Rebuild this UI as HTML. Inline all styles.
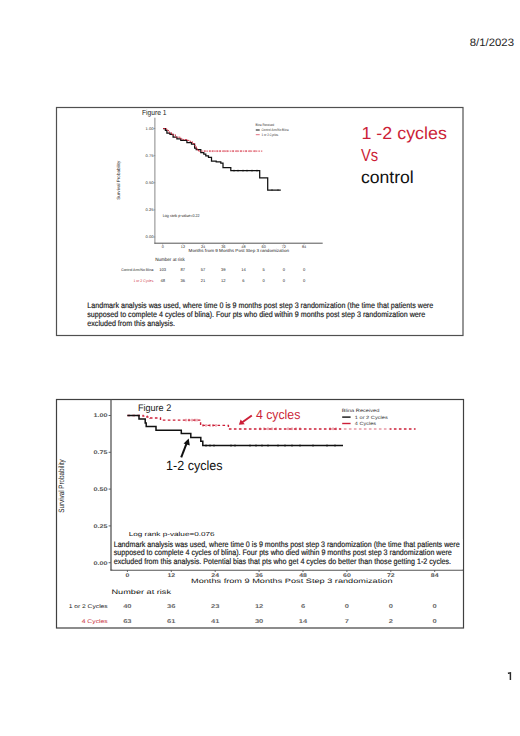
<!DOCTYPE html>
<html><head><meta charset="utf-8"><style>
html,body{margin:0;padding:0;background:#fff;width:520px;height:736px;overflow:hidden}
svg{display:block}
text{font-family:"Liberation Sans",sans-serif;text-rendering:geometricPrecision}
</style></head><body>
<svg width="520" height="736" viewBox="0 0 520 736">
<rect width="520" height="736" fill="#fff"/>
<text x="469.80" y="45.60" font-size="10.8" fill="#262626" textLength="44.20" lengthAdjust="spacingAndGlyphs" >8/1/2023</text>
<path d="M507.9,673.3 L510.4,672.9 L510.4,680" fill="none" stroke="#2a2a2a" stroke-width="1.45" stroke-linejoin="miter"/>
<rect x="56.5" y="107.5" width="406.5" height="228" fill="none" stroke="#505050" stroke-width="1.2"/>
<rect x="56.5" y="399.5" width="407" height="228.5" fill="none" stroke="#404040" stroke-width="1.2"/>
<text x="141.90" y="115.40" font-size="7.4" fill="#222" textLength="24.60" lengthAdjust="spacingAndGlyphs" >Figure 1</text>
<line x1="154.90" y1="117.70" x2="154.90" y2="243.70" stroke="#888" stroke-width="1.0" />
<line x1="154.40" y1="243.20" x2="322.70" y2="243.20" stroke="#555" stroke-width="1.0" />
<line x1="153.60" y1="128.50" x2="155.20" y2="128.50" stroke="#777" stroke-width="0.6" />
<text x="145.50" y="129.90" font-size="3.8" fill="#333" textLength="8.00" lengthAdjust="spacingAndGlyphs" >1.00</text>
<line x1="153.60" y1="155.62" x2="155.20" y2="155.62" stroke="#777" stroke-width="0.6" />
<text x="145.50" y="157.03" font-size="3.8" fill="#333" textLength="8.00" lengthAdjust="spacingAndGlyphs" >0.75</text>
<line x1="153.60" y1="182.75" x2="155.20" y2="182.75" stroke="#777" stroke-width="0.6" />
<text x="145.50" y="184.15" font-size="3.8" fill="#333" textLength="8.00" lengthAdjust="spacingAndGlyphs" >0.50</text>
<line x1="153.60" y1="209.88" x2="155.20" y2="209.88" stroke="#777" stroke-width="0.6" />
<text x="145.50" y="211.28" font-size="3.8" fill="#333" textLength="8.00" lengthAdjust="spacingAndGlyphs" >0.25</text>
<line x1="153.60" y1="237.00" x2="155.20" y2="237.00" stroke="#777" stroke-width="0.6" />
<text x="145.50" y="238.40" font-size="3.8" fill="#333" textLength="8.00" lengthAdjust="spacingAndGlyphs" >0.00</text>
<line x1="162.70" y1="243.20" x2="162.70" y2="244.60" stroke="#777" stroke-width="0.6" />
<text x="162.70" y="247.80" font-size="3.8" fill="#333" text-anchor="middle" >0</text>
<line x1="182.89" y1="243.20" x2="182.89" y2="244.60" stroke="#777" stroke-width="0.6" />
<text x="182.89" y="247.80" font-size="3.8" fill="#333" text-anchor="middle" >12</text>
<line x1="203.08" y1="243.20" x2="203.08" y2="244.60" stroke="#777" stroke-width="0.6" />
<text x="203.08" y="247.80" font-size="3.8" fill="#333" text-anchor="middle" >24</text>
<line x1="223.27" y1="243.20" x2="223.27" y2="244.60" stroke="#777" stroke-width="0.6" />
<text x="223.27" y="247.80" font-size="3.8" fill="#333" text-anchor="middle" >36</text>
<line x1="243.46" y1="243.20" x2="243.46" y2="244.60" stroke="#777" stroke-width="0.6" />
<text x="243.46" y="247.80" font-size="3.8" fill="#333" text-anchor="middle" >48</text>
<line x1="263.65" y1="243.20" x2="263.65" y2="244.60" stroke="#777" stroke-width="0.6" />
<text x="263.65" y="247.80" font-size="3.8" fill="#333" text-anchor="middle" >60</text>
<line x1="283.84" y1="243.20" x2="283.84" y2="244.60" stroke="#777" stroke-width="0.6" />
<text x="283.84" y="247.80" font-size="3.8" fill="#333" text-anchor="middle" >72</text>
<line x1="304.03" y1="243.20" x2="304.03" y2="244.60" stroke="#777" stroke-width="0.6" />
<text x="304.03" y="247.80" font-size="3.8" fill="#333" text-anchor="middle" >84</text>
<text x="188.60" y="251.70" font-size="4.4" fill="#1a1a1a" textLength="100.40" lengthAdjust="spacingAndGlyphs" >Months from 9 Months Post Step 3 randomization</text>
<text transform="translate(120.2,199.8) rotate(-90)" font-size="4.6" fill="#222" textLength="39" lengthAdjust="spacingAndGlyphs">Survival Probability</text>
<text x="162.70" y="217.20" font-size="4.0" fill="#1a1a1a" textLength="37.00" lengthAdjust="spacingAndGlyphs" >Log rank p-value=0.22</text>
<text x="255.40" y="125.90" font-size="3.5" fill="#333" textLength="18.80" lengthAdjust="spacingAndGlyphs" >Blina Received</text>
<line x1="255.80" y1="130.00" x2="259.70" y2="130.00" stroke="#111" stroke-width="1.0" />
<text x="261.50" y="131.30" font-size="3.5" fill="#333" textLength="27.00" lengthAdjust="spacingAndGlyphs" >Control Arm/No Blina</text>
<line x1="255.80" y1="134.70" x2="259.70" y2="134.70" stroke="#e07080" stroke-width="1.0" />
<text x="261.50" y="136.00" font-size="3.5" fill="#333" textLength="16.70" lengthAdjust="spacingAndGlyphs" >1 or 2 Cycles</text>
<text x="155.30" y="260.60" font-size="4.8" fill="#111" textLength="29.40" lengthAdjust="spacingAndGlyphs" >Number at risk</text>
<text x="121.20" y="271.00" font-size="3.6" fill="#222" textLength="32.30" lengthAdjust="spacingAndGlyphs" >Control Arm/No Blina</text>
<text x="133.50" y="282.00" font-size="3.7" fill="#d04050" textLength="20.00" lengthAdjust="spacingAndGlyphs" >1 or 2 Cycles</text>
<text x="162.70" y="271.20" font-size="4.1" fill="#222" text-anchor="middle" >103</text>
<text x="162.70" y="282.00" font-size="4.1" fill="#222" text-anchor="middle" >48</text>
<text x="182.89" y="271.20" font-size="4.1" fill="#222" text-anchor="middle" >87</text>
<text x="182.89" y="282.00" font-size="4.1" fill="#222" text-anchor="middle" >36</text>
<text x="203.08" y="271.20" font-size="4.1" fill="#222" text-anchor="middle" >57</text>
<text x="203.08" y="282.00" font-size="4.1" fill="#222" text-anchor="middle" >21</text>
<text x="223.27" y="271.20" font-size="4.1" fill="#222" text-anchor="middle" >39</text>
<text x="223.27" y="282.00" font-size="4.1" fill="#222" text-anchor="middle" >12</text>
<text x="243.46" y="271.20" font-size="4.1" fill="#222" text-anchor="middle" >14</text>
<text x="243.46" y="282.00" font-size="4.1" fill="#222" text-anchor="middle" >6</text>
<text x="263.65" y="271.20" font-size="4.1" fill="#222" text-anchor="middle" >5</text>
<text x="263.65" y="282.00" font-size="4.1" fill="#222" text-anchor="middle" >0</text>
<text x="283.84" y="271.20" font-size="4.1" fill="#222" text-anchor="middle" >0</text>
<text x="283.84" y="282.00" font-size="4.1" fill="#222" text-anchor="middle" >0</text>
<text x="304.03" y="271.20" font-size="4.1" fill="#222" text-anchor="middle" >0</text>
<text x="304.03" y="282.00" font-size="4.1" fill="#222" text-anchor="middle" >0</text>
<path d="M163.00,128.50 L165.40,128.50 L165.40,130.40 L166.90,130.40 L166.90,133.20 L170.00,133.20 L170.00,134.30 L173.10,134.30 L173.10,137.20 L176.90,137.20 L176.90,138.80 L180.80,138.80 L180.80,140.40 L186.90,140.40 L186.90,142.50 L191.50,142.50 L191.50,144.20 L194.60,144.20 L194.60,148.00 L196.20,148.00 L196.20,149.60 L200.80,149.60 L200.80,152.60 L203.80,152.60 L203.80,154.20 L205.80,154.20 L205.80,155.80 L208.50,155.80 L208.50,157.40 L211.50,157.40 L211.50,161.20 L216.20,161.20 L216.20,161.90 L220.80,161.90 L220.80,163.00 L223.00,163.00 L223.00,167.60 L230.80,167.60 L230.80,167.80 L230.80,167.80 L230.80,170.70 L259.70,170.70 L259.70,170.70 L259.70,170.70 L259.70,177.80 L267.70,177.80 L267.70,177.80 L267.70,177.80 L267.70,190.00 L280.80,190.00 L280.80,190.00" fill="none" stroke="#111" stroke-width="1.25" stroke-linejoin="miter"/>
<path d="M163.00,128.50 L166.20,128.50 L166.20,129.30 L167.70,129.30 L167.70,130.50 L169.20,130.50 L169.20,132.70 L171.50,132.70 L171.50,134.70 L175.40,134.70 L175.40,137.20 L180.80,137.20 L180.80,139.20 L183.10,139.20 L183.10,139.60 L186.90,139.60 L186.90,140.40 L190.00,140.40 L190.00,141.60 L192.30,141.60 L192.30,143.50 L194.60,143.50 L194.60,145.80 L196.20,145.80 L196.20,148.10 L197.20,148.10 L197.20,150.10 L198.50,150.10 L198.50,151.10" fill="none" stroke="#cc1f38" stroke-width="0.9" stroke-dasharray="2 1"/>
<path d="M198.50,151.10 L262.30,151.10" fill="none" stroke="#d83040" stroke-width="0.85" stroke-dasharray="1.7 0.9"/>
<line x1="205.00" y1="150.10" x2="205.00" y2="152.10" stroke="#cc1f38" stroke-width="0.6" />
<line x1="210.00" y1="150.10" x2="210.00" y2="152.10" stroke="#cc1f38" stroke-width="0.6" />
<line x1="213.00" y1="150.10" x2="213.00" y2="152.10" stroke="#cc1f38" stroke-width="0.6" />
<line x1="217.00" y1="150.10" x2="217.00" y2="152.10" stroke="#cc1f38" stroke-width="0.6" />
<line x1="220.00" y1="150.10" x2="220.00" y2="152.10" stroke="#cc1f38" stroke-width="0.6" />
<line x1="224.00" y1="150.10" x2="224.00" y2="152.10" stroke="#cc1f38" stroke-width="0.6" />
<line x1="227.00" y1="150.10" x2="227.00" y2="152.10" stroke="#cc1f38" stroke-width="0.6" />
<line x1="233.00" y1="150.10" x2="233.00" y2="152.10" stroke="#cc1f38" stroke-width="0.6" />
<line x1="237.00" y1="150.10" x2="237.00" y2="152.10" stroke="#cc1f38" stroke-width="0.6" />
<line x1="241.00" y1="150.10" x2="241.00" y2="152.10" stroke="#cc1f38" stroke-width="0.6" />
<line x1="246.00" y1="150.10" x2="246.00" y2="152.10" stroke="#cc1f38" stroke-width="0.6" />
<line x1="250.00" y1="150.10" x2="250.00" y2="152.10" stroke="#cc1f38" stroke-width="0.6" />
<line x1="255.00" y1="150.10" x2="255.00" y2="152.10" stroke="#cc1f38" stroke-width="0.6" />
<line x1="234.00" y1="169.70" x2="234.00" y2="171.70" stroke="#111" stroke-width="0.6" />
<line x1="238.00" y1="169.70" x2="238.00" y2="171.70" stroke="#111" stroke-width="0.6" />
<line x1="243.00" y1="169.70" x2="243.00" y2="171.70" stroke="#111" stroke-width="0.6" />
<line x1="247.00" y1="169.70" x2="247.00" y2="171.70" stroke="#111" stroke-width="0.6" />
<line x1="252.00" y1="169.70" x2="252.00" y2="171.70" stroke="#111" stroke-width="0.6" />
<line x1="257.00" y1="169.70" x2="257.00" y2="171.70" stroke="#111" stroke-width="0.6" />
<line x1="272.00" y1="189.00" x2="272.00" y2="191.00" stroke="#111" stroke-width="0.6" />
<line x1="278.00" y1="189.00" x2="278.00" y2="191.00" stroke="#111" stroke-width="0.6" />
<text x="361.40" y="138.70" font-size="17.4" fill="#cc1f38" textLength="85.50" lengthAdjust="spacingAndGlyphs" >1 -2 cycles</text>
<text x="361.00" y="160.90" font-size="17.4" fill="#cc1f38" textLength="17.20" lengthAdjust="spacingAndGlyphs" >Vs</text>
<text x="360.90" y="183.10" font-size="17.4" fill="#111" textLength="52.80" lengthAdjust="spacingAndGlyphs" >control</text>
<text x="87.30" y="308.20" font-size="8.0" fill="#1a1a1a" textLength="345.90" lengthAdjust="spacingAndGlyphs" stroke="#1a1a1a" stroke-width="0.18">Landmark analysis was used, where time 0 is 9 months post step 3 randomization (the time that patients were</text>
<text x="87.30" y="316.80" font-size="8.0" fill="#1a1a1a" textLength="337.80" lengthAdjust="spacingAndGlyphs" stroke="#1a1a1a" stroke-width="0.18">supposed to complete 4 cycles of blina). Four pts who died within 9 months post step 3 randomization were</text>
<text x="87.30" y="325.50" font-size="8.0" fill="#1a1a1a" textLength="87.70" lengthAdjust="spacingAndGlyphs" stroke="#1a1a1a" stroke-width="0.18">excluded from this analysis.</text>
<text x="137.90" y="411.00" font-size="9.6" fill="#1a1a1a" textLength="33.30" lengthAdjust="spacingAndGlyphs" >Figure 2</text>
<line x1="111.00" y1="399.50" x2="111.00" y2="570.60" stroke="#555" stroke-width="1.3" />
<line x1="110.50" y1="570.10" x2="463.00" y2="570.10" stroke="#555" stroke-width="1.3" />
<line x1="108.60" y1="415.50" x2="111.00" y2="415.50" stroke="#555" stroke-width="0.9" />
<text x="93.40" y="417.40" font-size="5.4" fill="#555" textLength="14.10" lengthAdjust="spacingAndGlyphs" font-weight="bold">1.00</text>
<line x1="108.60" y1="452.30" x2="111.00" y2="452.30" stroke="#555" stroke-width="0.9" />
<text x="93.40" y="454.20" font-size="5.4" fill="#555" textLength="14.10" lengthAdjust="spacingAndGlyphs" font-weight="bold">0.75</text>
<line x1="108.60" y1="489.10" x2="111.00" y2="489.10" stroke="#555" stroke-width="0.9" />
<text x="93.40" y="491.00" font-size="5.4" fill="#555" textLength="14.10" lengthAdjust="spacingAndGlyphs" font-weight="bold">0.50</text>
<line x1="108.60" y1="525.90" x2="111.00" y2="525.90" stroke="#555" stroke-width="0.9" />
<text x="93.40" y="527.80" font-size="5.4" fill="#555" textLength="14.10" lengthAdjust="spacingAndGlyphs" font-weight="bold">0.25</text>
<line x1="108.60" y1="562.70" x2="111.00" y2="562.70" stroke="#555" stroke-width="0.9" />
<text x="93.40" y="564.60" font-size="5.4" fill="#555" textLength="14.10" lengthAdjust="spacingAndGlyphs" font-weight="bold">0.00</text>
<line x1="127.40" y1="570.10" x2="127.40" y2="572.00" stroke="#555" stroke-width="0.9" />
<text x="125.48" y="576.80" font-size="5.4" fill="#555" textLength="3.85" lengthAdjust="spacingAndGlyphs" font-weight="bold">0</text>
<line x1="171.30" y1="570.10" x2="171.30" y2="572.00" stroke="#555" stroke-width="0.9" />
<text x="167.45" y="576.80" font-size="5.4" fill="#555" textLength="7.70" lengthAdjust="spacingAndGlyphs" font-weight="bold">12</text>
<line x1="215.20" y1="570.10" x2="215.20" y2="572.00" stroke="#555" stroke-width="0.9" />
<text x="211.35" y="576.80" font-size="5.4" fill="#555" textLength="7.70" lengthAdjust="spacingAndGlyphs" font-weight="bold">24</text>
<line x1="259.10" y1="570.10" x2="259.10" y2="572.00" stroke="#555" stroke-width="0.9" />
<text x="255.25" y="576.80" font-size="5.4" fill="#555" textLength="7.70" lengthAdjust="spacingAndGlyphs" font-weight="bold">36</text>
<line x1="303.00" y1="570.10" x2="303.00" y2="572.00" stroke="#555" stroke-width="0.9" />
<text x="299.15" y="576.80" font-size="5.4" fill="#555" textLength="7.70" lengthAdjust="spacingAndGlyphs" font-weight="bold">48</text>
<line x1="346.90" y1="570.10" x2="346.90" y2="572.00" stroke="#555" stroke-width="0.9" />
<text x="343.05" y="576.80" font-size="5.4" fill="#555" textLength="7.70" lengthAdjust="spacingAndGlyphs" font-weight="bold">60</text>
<line x1="390.80" y1="570.10" x2="390.80" y2="572.00" stroke="#555" stroke-width="0.9" />
<text x="386.95" y="576.80" font-size="5.4" fill="#555" textLength="7.70" lengthAdjust="spacingAndGlyphs" font-weight="bold">72</text>
<line x1="434.70" y1="570.10" x2="434.70" y2="572.00" stroke="#555" stroke-width="0.9" />
<text x="430.85" y="576.80" font-size="5.4" fill="#555" textLength="7.70" lengthAdjust="spacingAndGlyphs" font-weight="bold">84</text>
<text x="191.00" y="583.30" font-size="6.3" fill="#111" textLength="201.50" lengthAdjust="spacingAndGlyphs" >Months from 9 Months Post Step 3 randomization</text>
<text transform="translate(63.6,512.8) rotate(-90)" font-size="7.8" fill="#1a1a1a" textLength="53.5" lengthAdjust="spacingAndGlyphs">Survival Probability</text>
<text x="341.70" y="411.80" font-size="4.6" fill="#333" textLength="37.70" lengthAdjust="spacingAndGlyphs" >Blina Received</text>
<line x1="342.20" y1="417.10" x2="350.60" y2="417.10" stroke="#111" stroke-width="1.4" />
<text x="354.80" y="418.70" font-size="4.6" fill="#333" textLength="33.00" lengthAdjust="spacingAndGlyphs" >1 or 2 Cycles</text>
<line x1="342.20" y1="423.50" x2="350.60" y2="423.50" stroke="#cc1f38" stroke-width="1.4" />
<text x="354.80" y="425.10" font-size="4.6" fill="#333" textLength="21.20" lengthAdjust="spacingAndGlyphs" >4 Cycles</text>
<path d="M127.40,415.50 L143.00,415.50 L143.00,416.10 L147.00,416.10 L147.00,417.00 L150.00,417.00 L150.00,418.00 L160.50,418.00 L160.50,420.10 L200.60,420.10 L200.60,425.40 L228.40,425.40 L228.40,429.00 L415.60,429.00" fill="none" stroke="#cc1f38" stroke-width="1.4" stroke-dasharray="2.6 2.4"/>
<path d="M127.40,415.50 L139.00,415.50 L139.00,419.10 L145.20,419.10 L145.20,423.00 L146.20,423.00 L146.20,426.50 L156.00,426.50 L156.00,430.20 L181.30,430.20 L181.30,433.60 L190.80,433.60 L190.80,437.40 L200.80,437.40 L200.80,441.30 L202.80,441.30 L202.80,445.60 L343.00,445.60" fill="none" stroke="#111" stroke-width="1.5" />
<line x1="206.00" y1="444.40" x2="206.00" y2="446.80" stroke="#111" stroke-width="0.7" />
<line x1="210.00" y1="444.40" x2="210.00" y2="446.80" stroke="#111" stroke-width="0.7" />
<line x1="214.00" y1="444.40" x2="214.00" y2="446.80" stroke="#111" stroke-width="0.7" />
<line x1="231.00" y1="444.40" x2="231.00" y2="446.80" stroke="#111" stroke-width="0.7" />
<line x1="235.00" y1="444.40" x2="235.00" y2="446.80" stroke="#111" stroke-width="0.7" />
<line x1="250.00" y1="444.40" x2="250.00" y2="446.80" stroke="#111" stroke-width="0.7" />
<line x1="256.00" y1="444.40" x2="256.00" y2="446.80" stroke="#111" stroke-width="0.7" />
<line x1="262.00" y1="444.40" x2="262.00" y2="446.80" stroke="#111" stroke-width="0.7" />
<line x1="268.00" y1="444.40" x2="268.00" y2="446.80" stroke="#111" stroke-width="0.7" />
<line x1="278.00" y1="444.40" x2="278.00" y2="446.80" stroke="#111" stroke-width="0.7" />
<line x1="285.00" y1="444.40" x2="285.00" y2="446.80" stroke="#111" stroke-width="0.7" />
<line x1="292.00" y1="444.40" x2="292.00" y2="446.80" stroke="#111" stroke-width="0.7" />
<line x1="300.00" y1="444.40" x2="300.00" y2="446.80" stroke="#111" stroke-width="0.7" />
<line x1="313.00" y1="444.40" x2="313.00" y2="446.80" stroke="#111" stroke-width="0.7" />
<line x1="327.00" y1="444.40" x2="327.00" y2="446.80" stroke="#111" stroke-width="0.7" />
<line x1="335.00" y1="444.40" x2="335.00" y2="446.80" stroke="#111" stroke-width="0.7" />
<line x1="186.00" y1="418.80" x2="186.00" y2="421.40" stroke="#cc1f38" stroke-width="0.7" />
<line x1="189.00" y1="418.80" x2="189.00" y2="421.40" stroke="#cc1f38" stroke-width="0.7" />
<line x1="192.00" y1="418.80" x2="192.00" y2="421.40" stroke="#cc1f38" stroke-width="0.7" />
<line x1="195.00" y1="418.80" x2="195.00" y2="421.40" stroke="#cc1f38" stroke-width="0.7" />
<line x1="197.00" y1="418.80" x2="197.00" y2="421.40" stroke="#cc1f38" stroke-width="0.7" />
<line x1="203.00" y1="424.10" x2="203.00" y2="426.70" stroke="#cc1f38" stroke-width="0.7" />
<line x1="206.00" y1="424.10" x2="206.00" y2="426.70" stroke="#cc1f38" stroke-width="0.7" />
<line x1="210.00" y1="424.10" x2="210.00" y2="426.70" stroke="#cc1f38" stroke-width="0.7" />
<line x1="213.00" y1="424.10" x2="213.00" y2="426.70" stroke="#cc1f38" stroke-width="0.7" />
<line x1="216.00" y1="424.10" x2="216.00" y2="426.70" stroke="#cc1f38" stroke-width="0.7" />
<line x1="260.00" y1="427.50" x2="260.00" y2="430.10" stroke="#cc1f38" stroke-width="0.7" />
<line x1="264.00" y1="427.50" x2="264.00" y2="430.10" stroke="#cc1f38" stroke-width="0.7" />
<line x1="268.00" y1="427.50" x2="268.00" y2="430.10" stroke="#cc1f38" stroke-width="0.7" />
<line x1="272.00" y1="427.50" x2="272.00" y2="430.10" stroke="#cc1f38" stroke-width="0.7" />
<line x1="276.00" y1="427.50" x2="276.00" y2="430.10" stroke="#cc1f38" stroke-width="0.7" />
<line x1="288.00" y1="427.50" x2="288.00" y2="430.10" stroke="#cc1f38" stroke-width="0.7" />
<line x1="292.00" y1="427.50" x2="292.00" y2="430.10" stroke="#cc1f38" stroke-width="0.7" />
<line x1="296.00" y1="427.50" x2="296.00" y2="430.10" stroke="#cc1f38" stroke-width="0.7" />
<line x1="300.00" y1="427.50" x2="300.00" y2="430.10" stroke="#cc1f38" stroke-width="0.7" />
<line x1="330.00" y1="427.50" x2="330.00" y2="430.10" stroke="#cc1f38" stroke-width="0.7" />
<line x1="333.00" y1="427.50" x2="333.00" y2="430.10" stroke="#cc1f38" stroke-width="0.7" />
<line x1="336.00" y1="427.50" x2="336.00" y2="430.10" stroke="#cc1f38" stroke-width="0.7" />
<rect x="341" y="426" width="49" height="5" fill="#fff" fill-opacity="0.55"/>
<text x="255.90" y="419.30" font-size="13.2" fill="#cc1f38" textLength="44.40" lengthAdjust="spacingAndGlyphs" >4 cycles</text>
<text x="166.10" y="469.80" font-size="13.3" fill="#111" textLength="56.50" lengthAdjust="spacingAndGlyphs" >1-2 cycles</text>
<line x1="251.8" y1="415.5" x2="242.3" y2="422.3" stroke="#cc1f38" stroke-width="2"/>
<polygon points="238.9,424.8 240.6,419.4 244.8,424.2" fill="#cc1f38"/>
<line x1="181.2" y1="457.4" x2="186.4" y2="443.8" stroke="#111" stroke-width="2"/>
<polygon points="188.7,438.4 183.6,443.6 189.8,445.6" fill="#111"/>
<rect x="112.5" y="539" width="350" height="30.5" fill="#fff"/>
<text x="128.70" y="535.70" font-size="5.9" fill="#111" textLength="85.90" lengthAdjust="spacingAndGlyphs" >Log rank p-value=0.076</text>
<text x="113.70" y="546.60" font-size="8.0" fill="#1a1a1a" textLength="345.90" lengthAdjust="spacingAndGlyphs" stroke="#1a1a1a" stroke-width="0.18">Landmark analysis was used, where time 0 is 9 months post step 3 randomization (the time that patients were</text>
<text x="113.70" y="555.30" font-size="8.0" fill="#1a1a1a" textLength="338.10" lengthAdjust="spacingAndGlyphs" stroke="#1a1a1a" stroke-width="0.18">supposed to complete 4 cycles of blina). Four pts who died within 9 months post step 3 randomization were</text>
<text x="113.70" y="564.00" font-size="8.0" fill="#1a1a1a" textLength="337.40" lengthAdjust="spacingAndGlyphs" stroke="#1a1a1a" stroke-width="0.18">excluded from this analysis. Potential bias that pts who get 4 cycles do better than those getting 1-2 cycles.</text>
<text x="111.50" y="593.50" font-size="6.4" fill="#111" textLength="59.50" lengthAdjust="spacingAndGlyphs" >Number at risk</text>
<text x="68.70" y="608.00" font-size="5.4" fill="#222" textLength="39.00" lengthAdjust="spacingAndGlyphs" >1 or 2 Cycles</text>
<text x="81.70" y="623.00" font-size="5.4" fill="#c8303a" textLength="26.00" lengthAdjust="spacingAndGlyphs" >4 Cycles</text>
<text x="123.20" y="608.10" font-size="5.6" fill="#666" textLength="8.40" lengthAdjust="spacingAndGlyphs" font-weight="bold">40</text>
<text x="123.20" y="623.10" font-size="5.6" fill="#666" textLength="8.40" lengthAdjust="spacingAndGlyphs" font-weight="bold">63</text>
<text x="167.10" y="608.10" font-size="5.6" fill="#666" textLength="8.40" lengthAdjust="spacingAndGlyphs" font-weight="bold">36</text>
<text x="167.10" y="623.10" font-size="5.6" fill="#666" textLength="8.40" lengthAdjust="spacingAndGlyphs" font-weight="bold">61</text>
<text x="211.00" y="608.10" font-size="5.6" fill="#666" textLength="8.40" lengthAdjust="spacingAndGlyphs" font-weight="bold">23</text>
<text x="211.00" y="623.10" font-size="5.6" fill="#666" textLength="8.40" lengthAdjust="spacingAndGlyphs" font-weight="bold">41</text>
<text x="254.90" y="608.10" font-size="5.6" fill="#666" textLength="8.40" lengthAdjust="spacingAndGlyphs" font-weight="bold">12</text>
<text x="254.90" y="623.10" font-size="5.6" fill="#666" textLength="8.40" lengthAdjust="spacingAndGlyphs" font-weight="bold">30</text>
<text x="300.90" y="608.10" font-size="5.6" fill="#666" textLength="4.20" lengthAdjust="spacingAndGlyphs" font-weight="bold">6</text>
<text x="298.80" y="623.10" font-size="5.6" fill="#666" textLength="8.40" lengthAdjust="spacingAndGlyphs" font-weight="bold">14</text>
<text x="344.80" y="608.10" font-size="5.6" fill="#666" textLength="4.20" lengthAdjust="spacingAndGlyphs" font-weight="bold">0</text>
<text x="344.80" y="623.10" font-size="5.6" fill="#666" textLength="4.20" lengthAdjust="spacingAndGlyphs" font-weight="bold">7</text>
<text x="388.70" y="608.10" font-size="5.6" fill="#666" textLength="4.20" lengthAdjust="spacingAndGlyphs" font-weight="bold">0</text>
<text x="388.70" y="623.10" font-size="5.6" fill="#666" textLength="4.20" lengthAdjust="spacingAndGlyphs" font-weight="bold">2</text>
<text x="432.60" y="608.10" font-size="5.6" fill="#666" textLength="4.20" lengthAdjust="spacingAndGlyphs" font-weight="bold">0</text>
<text x="432.60" y="623.10" font-size="5.6" fill="#666" textLength="4.20" lengthAdjust="spacingAndGlyphs" font-weight="bold">0</text>
</svg>
</body></html>
